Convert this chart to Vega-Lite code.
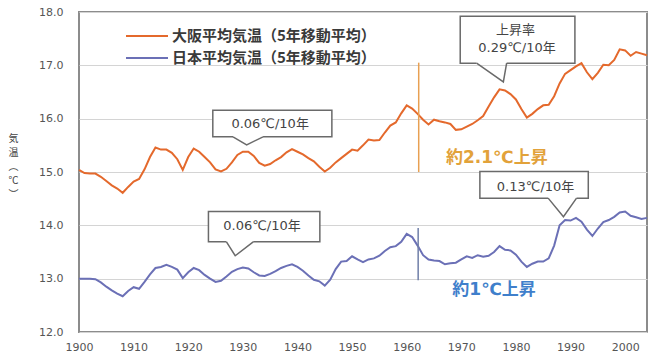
{
  "$schema": "https://vega.github.io/schema/vega-lite/v6.json",
  "width": 568,
  "height": 320,
  "autosize": "none",
  "padding": {"left": 79, "top": 12, "right": 9, "bottom": 24},
  "background": "white",
  "config": {
    "view": {"stroke": "#8c8c8c", "strokeWidth": 2},
    "font": "DejaVu Sans, Noto Sans CJK JP"
  },
  "datasets": {
    "temps": [
      {"year": 1900, "osaka": 15.04, "japan": 13.00},
      {"year": 1901, "osaka": 14.98, "japan": 13.00},
      {"year": 1902, "osaka": 14.97, "japan": 13.00},
      {"year": 1903, "osaka": 14.97, "japan": 12.99},
      {"year": 1904, "osaka": 14.91, "japan": 12.93},
      {"year": 1905, "osaka": 14.83, "japan": 12.85},
      {"year": 1906, "osaka": 14.75, "japan": 12.78},
      {"year": 1907, "osaka": 14.69, "japan": 12.72},
      {"year": 1908, "osaka": 14.61, "japan": 12.67},
      {"year": 1909, "osaka": 14.72, "japan": 12.77},
      {"year": 1910, "osaka": 14.82, "japan": 12.84},
      {"year": 1911, "osaka": 14.87, "japan": 12.81},
      {"year": 1912, "osaka": 15.05, "japan": 12.94},
      {"year": 1913, "osaka": 15.28, "japan": 13.08},
      {"year": 1914, "osaka": 15.46, "japan": 13.20},
      {"year": 1915, "osaka": 15.42, "japan": 13.22},
      {"year": 1916, "osaka": 15.42, "japan": 13.26},
      {"year": 1917, "osaka": 15.36, "japan": 13.22},
      {"year": 1918, "osaka": 15.24, "japan": 13.17},
      {"year": 1919, "osaka": 15.04, "japan": 13.01},
      {"year": 1920, "osaka": 15.28, "japan": 13.12},
      {"year": 1921, "osaka": 15.44, "japan": 13.20},
      {"year": 1922, "osaka": 15.38, "japan": 13.16},
      {"year": 1923, "osaka": 15.28, "japan": 13.07},
      {"year": 1924, "osaka": 15.18, "japan": 13.00},
      {"year": 1925, "osaka": 15.05, "japan": 12.94},
      {"year": 1926, "osaka": 15.01, "japan": 12.96},
      {"year": 1927, "osaka": 15.06, "japan": 13.04},
      {"year": 1928, "osaka": 15.18, "japan": 13.13},
      {"year": 1929, "osaka": 15.32, "japan": 13.18},
      {"year": 1930, "osaka": 15.38, "japan": 13.21},
      {"year": 1931, "osaka": 15.38, "japan": 13.19},
      {"year": 1932, "osaka": 15.30, "japan": 13.12},
      {"year": 1933, "osaka": 15.17, "japan": 13.06},
      {"year": 1934, "osaka": 15.12, "japan": 13.05},
      {"year": 1935, "osaka": 15.15, "japan": 13.09},
      {"year": 1936, "osaka": 15.22, "japan": 13.14},
      {"year": 1937, "osaka": 15.28, "japan": 13.20},
      {"year": 1938, "osaka": 15.37, "japan": 13.24},
      {"year": 1939, "osaka": 15.43, "japan": 13.27},
      {"year": 1940, "osaka": 15.38, "japan": 13.22},
      {"year": 1941, "osaka": 15.33, "japan": 13.15},
      {"year": 1942, "osaka": 15.26, "japan": 13.06},
      {"year": 1943, "osaka": 15.20, "japan": 12.98},
      {"year": 1944, "osaka": 15.10, "japan": 12.95},
      {"year": 1945, "osaka": 15.01, "japan": 12.87},
      {"year": 1946, "osaka": 15.08, "japan": 12.98},
      {"year": 1947, "osaka": 15.18, "japan": 13.18},
      {"year": 1948, "osaka": 15.26, "japan": 13.32},
      {"year": 1949, "osaka": 15.34, "japan": 13.33},
      {"year": 1950, "osaka": 15.42, "japan": 13.42},
      {"year": 1951, "osaka": 15.40, "japan": 13.36},
      {"year": 1952, "osaka": 15.50, "japan": 13.31},
      {"year": 1953, "osaka": 15.61, "japan": 13.36},
      {"year": 1954, "osaka": 15.59, "japan": 13.38},
      {"year": 1955, "osaka": 15.60, "japan": 13.43},
      {"year": 1956, "osaka": 15.74, "japan": 13.52},
      {"year": 1957, "osaka": 15.87, "japan": 13.59},
      {"year": 1958, "osaka": 15.93, "japan": 13.61},
      {"year": 1959, "osaka": 16.10, "japan": 13.69},
      {"year": 1960, "osaka": 16.25, "japan": 13.84},
      {"year": 1961, "osaka": 16.19, "japan": 13.78},
      {"year": 1962, "osaka": 16.09, "japan": 13.62},
      {"year": 1963, "osaka": 15.98, "japan": 13.44},
      {"year": 1964, "osaka": 15.89, "japan": 13.36},
      {"year": 1965, "osaka": 15.98, "japan": 13.34},
      {"year": 1966, "osaka": 15.95, "japan": 13.33},
      {"year": 1967, "osaka": 15.93, "japan": 13.27},
      {"year": 1968, "osaka": 15.90, "japan": 13.29},
      {"year": 1969, "osaka": 15.79, "japan": 13.30},
      {"year": 1970, "osaka": 15.80, "japan": 13.36},
      {"year": 1971, "osaka": 15.85, "japan": 13.42},
      {"year": 1972, "osaka": 15.90, "japan": 13.39},
      {"year": 1973, "osaka": 15.97, "japan": 13.44},
      {"year": 1974, "osaka": 16.05, "japan": 13.41},
      {"year": 1975, "osaka": 16.23, "japan": 13.43},
      {"year": 1976, "osaka": 16.40, "japan": 13.50},
      {"year": 1977, "osaka": 16.55, "japan": 13.61},
      {"year": 1978, "osaka": 16.53, "japan": 13.54},
      {"year": 1979, "osaka": 16.46, "japan": 13.53},
      {"year": 1980, "osaka": 16.36, "japan": 13.45},
      {"year": 1981, "osaka": 16.18, "japan": 13.32},
      {"year": 1982, "osaka": 16.02, "japan": 13.22},
      {"year": 1983, "osaka": 16.09, "japan": 13.28},
      {"year": 1984, "osaka": 16.18, "japan": 13.32},
      {"year": 1985, "osaka": 16.25, "japan": 13.32},
      {"year": 1986, "osaka": 16.26, "japan": 13.38},
      {"year": 1987, "osaka": 16.42, "japan": 13.62},
      {"year": 1988, "osaka": 16.66, "japan": 14.00},
      {"year": 1989, "osaka": 16.84, "japan": 14.10},
      {"year": 1990, "osaka": 16.91, "japan": 14.09},
      {"year": 1991, "osaka": 16.98, "japan": 14.14},
      {"year": 1992, "osaka": 17.04, "japan": 14.07},
      {"year": 1993, "osaka": 16.87, "japan": 13.92},
      {"year": 1994, "osaka": 16.74, "japan": 13.80},
      {"year": 1995, "osaka": 16.86, "japan": 13.94},
      {"year": 1996, "osaka": 17.01, "japan": 14.06},
      {"year": 1997, "osaka": 17.00, "japan": 14.10},
      {"year": 1998, "osaka": 17.10, "japan": 14.16},
      {"year": 1999, "osaka": 17.30, "japan": 14.24},
      {"year": 2000, "osaka": 17.28, "japan": 14.26},
      {"year": 2001, "osaka": 17.18, "japan": 14.18},
      {"year": 2002, "osaka": 17.25, "japan": 14.15},
      {"year": 2003, "osaka": 17.22, "japan": 14.12},
      {"year": 2004, "osaka": 17.19, "japan": 14.14}
    ],
    "callouts": [
      {"id": "a", "x1": 1969.8, "x2": 1990.8, "y1": 17.04, "y2": 17.92, "bl": 1972.8, "br": 1978.3},
      {"id": "b", "x1": 1924.5, "x2": 1946.3, "y1": 15.66, "y2": 16.16, "bl": 1928.2, "br": 1933.7},
      {"id": "c", "x1": 1923.7, "x2": 1944.1, "y1": 13.69, "y2": 14.26, "bl": 1927.0, "br": 1931.9},
      {"id": "d", "x1": 1973.4, "x2": 1993.25, "y1": 14.51, "y2": 15.01, "bl": 1985.9, "br": 1991.1}
    ],
    "pointers": [
      {"id": "a", "ord": 1, "year": 1972.8, "value": 17.04},
      {"id": "a", "ord": 2, "year": 1977.7, "value": 16.69},
      {"id": "a", "ord": 3, "year": 1978.3, "value": 17.04},
      {"id": "b", "ord": 1, "year": 1928.2, "value": 15.66},
      {"id": "b", "ord": 2, "year": 1930.7, "value": 15.51},
      {"id": "b", "ord": 3, "year": 1933.7, "value": 15.66},
      {"id": "c", "ord": 1, "year": 1927.0, "value": 13.69},
      {"id": "c", "ord": 2, "year": 1928.6, "value": 13.43},
      {"id": "c", "ord": 3, "year": 1931.9, "value": 13.69},
      {"id": "d", "ord": 1, "year": 1985.9, "value": 14.51},
      {"id": "d", "ord": 2, "year": 1988.7, "value": 14.16},
      {"id": "d", "ord": 3, "year": 1991.1, "value": 14.51}
    ],
    "notes": [
      {"year": 1979.9, "value": 17.66, "text": "上昇率", "kind": "call"},
      {"year": 1980.2, "value": 17.33, "text": "0.29℃/10年", "kind": "call"},
      {"year": 1935.0, "value": 15.90, "text": "0.06℃/10年", "kind": "call"},
      {"year": 1933.5, "value": 13.98, "text": "0.06℃/10年", "kind": "call"},
      {"year": 1983.6, "value": 14.72, "text": "0.13℃/10年", "kind": "call"},
      {"year": 1976.5, "value": 15.26, "text": "約2.1℃上昇", "kind": "osaka"},
      {"year": 1976.0, "value": 12.79, "text": "約1℃上昇", "kind": "japan"}
    ],
    "spans": [
      {"year": 1962.2, "lo": 15.0, "hi": 17.05, "kind": "osaka"},
      {"year": 1962.1, "lo": 12.97, "hi": 13.95, "kind": "japan"}
    ]
  },
  "layer": [
    {
      "data": {"name": "temps"},
      "transform": [{"fold": ["osaka", "japan"], "as": ["key", "value"]}],
      "mark": {"type": "line", "strokeWidth": 2},
      "encoding": {
        "x": {
          "field": "year", "type": "quantitative",
          "scale": {"domain": [1900, 2004], "nice": false, "zero": false},
          "axis": {
            "title": null, "values": [1900, 1910, 1920, 1930, 1940, 1950, 1960, 1970, 1980, 1990, 2000],
            "format": "d", "grid": false, "domain": false, "ticks": false, "labelFlush": false,
            "labelFont": "DejaVu Sans", "labelFontSize": 11, "labelColor": "#555555", "labelPadding": 9, "labelDx": 2
          }
        },
        "y": {
          "field": "value", "type": "quantitative",
          "scale": {"domain": [12, 18], "nice": false, "zero": false},
          "axis": {
            "values": [12, 13, 14, 15, 16, 17, 18], "format": ".1f",
            "grid": true, "gridColor": "#d4d4d4", "gridWidth": 1, "domain": false, "ticks": false,
            "labelFont": "DejaVu Sans", "labelFontSize": 11, "labelColor": "#555555", "labelPadding": 16,
            "title": ["気", "温", "︵", "℃", "︶"],
            "titleAngle": 0, "titleX": -66, "titleY": 121, "titleAlign": "center", "titleBaseline": "top",
            "titleFont": "Noto Sans CJK JP", "titleFontSize": 10, "titleFontWeight": "normal",
            "titleColor": "#444444", "titleLineHeight": 14
          }
        },
        "color": {
          "field": "key", "type": "nominal",
          "scale": {"domain": ["osaka", "japan"], "range": ["#E4692C", "#6B70B6"]},
          "legend": {
            "orient": "none", "legendX": 60, "legendY": 16, "title": null,
            "symbolType": "M-3,0H3", "symbolSize": 196, "symbolStrokeWidth": 2,
            "labelFont": "Noto Sans CJK JP", "labelFontSize": 15, "labelFontWeight": "bold", "labelColor": "#3a3a3a",
            "labelOffset": 17, "rowPadding": 6, "labelLimit": 400,
            "labelExpr": "datum.label == 'osaka' ? '大阪平均気温（5年移動平均）' : '日本平均気温（5年移動平均）'"
          }
        }
      }
    },
    {
      "data": {"name": "spans"},
      "transform": [{"filter": "datum.kind == 'osaka'"}],
      "mark": {"type": "rule", "stroke": "#E8A052", "strokeWidth": 1.5},
      "encoding": {
        "x": {"field": "year", "type": "quantitative"},
        "y": {"field": "lo", "type": "quantitative"},
        "y2": {"field": "hi"}
      }
    },
    {
      "data": {"name": "spans"},
      "transform": [{"filter": "datum.kind == 'japan'"}],
      "mark": {"type": "rule", "stroke": "#6F7FA8", "strokeWidth": 1.5},
      "encoding": {
        "x": {"field": "year", "type": "quantitative"},
        "y": {"field": "lo", "type": "quantitative"},
        "y2": {"field": "hi"}
      }
    },
    {
      "data": {"name": "callouts"},
      "mark": {"type": "rect", "fill": "white", "stroke": "#6a6a6a", "strokeWidth": 1.5},
      "encoding": {
        "x": {"field": "x1", "type": "quantitative"},
        "x2": {"field": "x2"},
        "y": {"field": "y1", "type": "quantitative"},
        "y2": {"field": "y2"}
      }
    },
    {
      "data": {"name": "callouts"},
      "mark": {"type": "rule", "stroke": "white", "strokeWidth": 3},
      "encoding": {
        "x": {"field": "bl", "type": "quantitative"},
        "x2": {"field": "br"},
        "y": {"field": "y1", "type": "quantitative"}
      }
    },
    {
      "data": {"name": "pointers"},
      "mark": {"type": "line", "stroke": "#6a6a6a", "strokeWidth": 1.5},
      "encoding": {
        "x": {"field": "year", "type": "quantitative"},
        "y": {"field": "value", "type": "quantitative"},
        "detail": {"field": "id"},
        "order": {"field": "ord"}
      }
    },
    {
      "data": {"name": "notes"},
      "transform": [{"filter": "datum.kind == 'call'"}],
      "mark": {"type": "text", "font": "DejaVu Sans, Noto Sans CJK JP", "fontSize": 13, "color": "#444444", "align": "center", "baseline": "middle"},
      "encoding": {
        "x": {"field": "year", "type": "quantitative"},
        "y": {"field": "value", "type": "quantitative"},
        "text": {"field": "text"}
      }
    },
    {
      "data": {"name": "notes"},
      "transform": [{"filter": "datum.kind == 'osaka'"}],
      "mark": {"type": "text", "font": "DejaVu Sans, Noto Sans CJK JP", "fontSize": 17, "fontWeight": "bold", "color": "#E2A23A", "align": "center", "baseline": "middle"},
      "encoding": {
        "x": {"field": "year", "type": "quantitative"},
        "y": {"field": "value", "type": "quantitative"},
        "text": {"field": "text"}
      }
    },
    {
      "data": {"name": "notes"},
      "transform": [{"filter": "datum.kind == 'japan'"}],
      "mark": {"type": "text", "font": "DejaVu Sans, Noto Sans CJK JP", "fontSize": 17, "fontWeight": "bold", "color": "#3F7FCB", "align": "center", "baseline": "middle"},
      "encoding": {
        "x": {"field": "year", "type": "quantitative"},
        "y": {"field": "value", "type": "quantitative"},
        "text": {"field": "text"}
      }
    }
  ]
}
